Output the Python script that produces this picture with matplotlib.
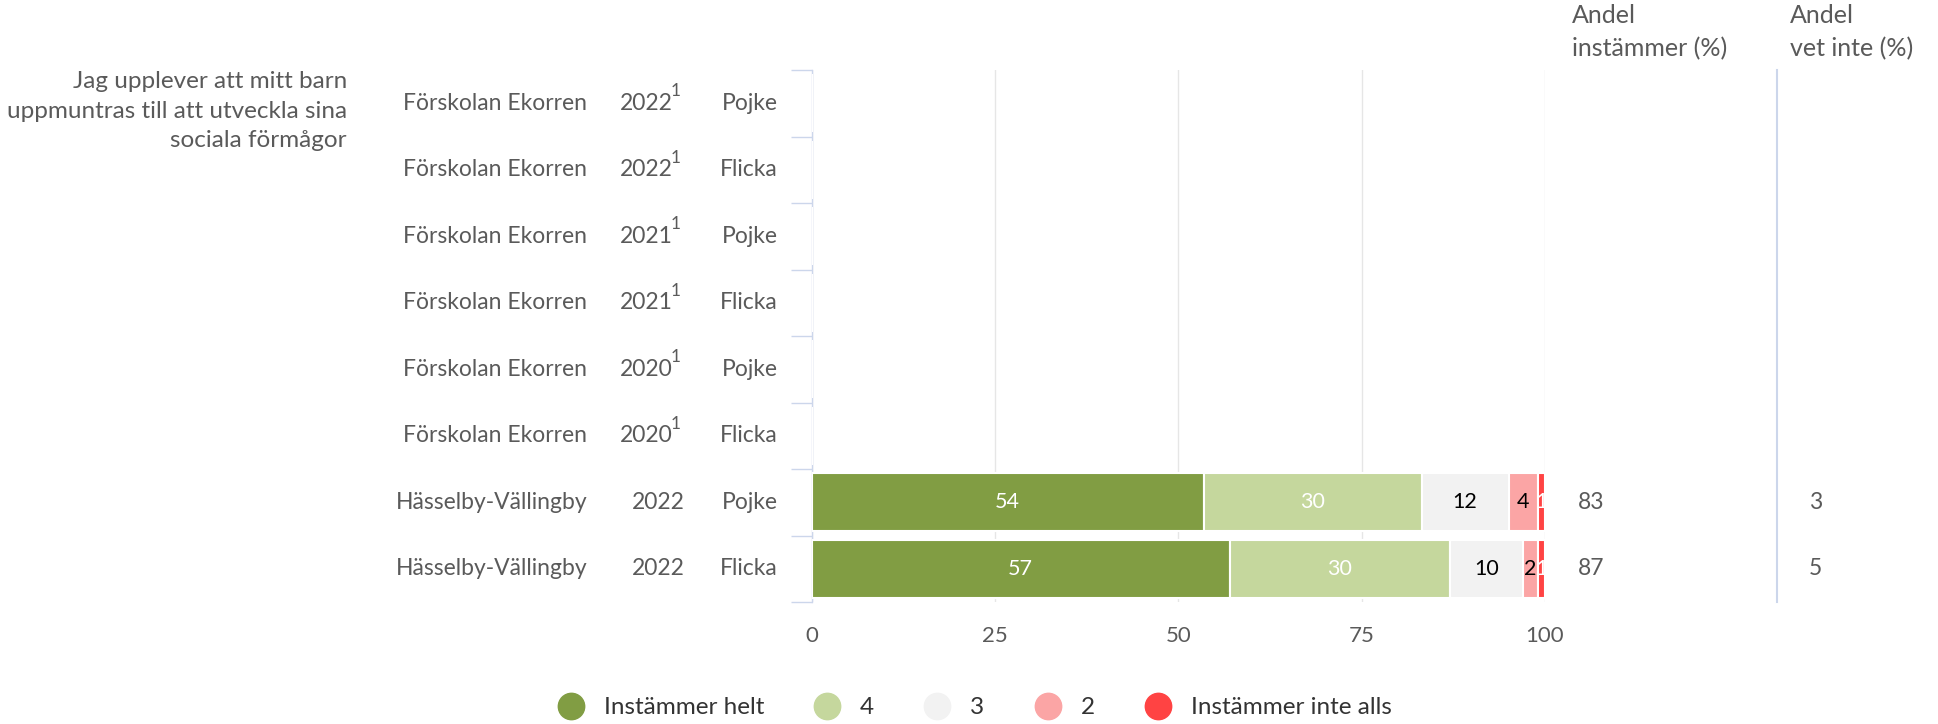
import matplotlib.pyplot as plt
import matplotlib.transforms as mtransforms
from matplotlib.lines import Line2D
import numpy as np

plt.rcParams['font.family'] = ['Lato', 'DejaVu Sans']

# data
question = "Jag upplever att mitt barn\nuppmuntras till att utveckla sina\nsociala förmågor"
units = ["Förskolan Ekorren"] * 6 + ["Hässelby-Vällingby"] * 2
years = ["2022", "2022", "2021", "2021", "2020", "2020", "2022", "2022"]
footnotes = ["1", "1", "1", "1", "1", "1", "", ""]
genders = ["Pojke", "Flicka", "Pojke", "Flicka", "Pojke", "Flicka", "Pojke", "Flicka"]

series_names = ["Instämmer helt", "4", "3", "2", "Instämmer inte alls"]
helt = [0, 0, 0, 0, 0, 0, 54, 57]
fyra = [0, 0, 0, 0, 0, 0, 30, 30]
tre = [0, 0, 0, 0, 0, 0, 12, 10]
tva = [0, 0, 0, 0, 0, 0, 4, 2]
inte_alls = [0, 0, 0, 0, 0, 0, 1, 1]
andel_instammer = ["", "", "", "", "", "", "83", "87"]
andel_vet_inte = ["", "", "", "", "", "", "3", "5"]

colors = ["#819d43", "#c5d79d", "#f2f2f2", "#fba5a5", "#ff4343"]
label_colors = ["white", "white", "black", "black", "white"]
text_grey = "#5a5a5a"
axis_col = "#ccd6eb"

W, H = 1938, 724
fig = plt.figure(figsize=(W / 100, H / 100), dpi=100)
x0, x1 = 811.5, 1545
y_top, y_bot = 70, 602
ax = fig.add_axes([x0 / W, 1 - y_bot / H, (x1 - x0) / W, (y_bot - y_top) / H])

values = np.array([helt, fyra, tre, tva, inte_alls], dtype=float)
totals = values.sum(axis=0)
totals[totals == 0] = 1
pct = values / totals * 100

rows = np.arange(len(units))
left = np.zeros(len(units))
for i, name in enumerate(series_names):
    ax.barh(rows, pct[i], left=left, height=0.87, color=colors[i],
            edgecolor="white", linewidth=1.5, label=name, zorder=3)
    for r in rows:
        if values[i, r] > 0:
            ax.text(left[r] + pct[i, r] / 2, r, "%d" % values[i, r],
                    ha="center", va="center", fontsize=15.5,
                    color=label_colors[i], zorder=4)
    left += pct[i]

ax.set_xlim(0, 100)
ax.set_ylim(len(units) - 0.5, -0.5)
ax.set_xticks([0, 25, 50, 75, 100])
ax.xaxis.grid(True, color="#e6e6e6", linewidth=1)
ax.set_axisbelow(True)
ax.tick_params(axis="x", length=0, pad=17, labelsize=16, labelcolor=text_grey)
ax.set_yticks(np.arange(-0.5, len(units), 1))
ax.set_yticklabels([])
ax.tick_params(axis="y", length=15, width=1, color=axis_col)
for s in ["top", "right", "bottom"]:
    ax.spines[s].set_visible(False)
ax.spines["left"].set_color(axis_col)
ax.spines["left"].set_linewidth(1)

# row labels in pixel x, data y
tr = mtransforms.blended_transform_factory(fig.transFigure, ax.transData)
for r in rows:
    ax.text(587 / W, r, units[r], transform=tr, ha="right", va="center",
            fontsize=16.5, color=text_grey)
    if footnotes[r]:
        ax.text(646 / W, r, years[r], transform=tr, ha="center", va="center",
                fontsize=16.5, color=text_grey)
        ax.text(671 / W, r - 0.18, footnotes[r], transform=tr, ha="left",
                va="center", fontsize=12.5, color=text_grey)
    else:
        ax.text(658 / W, r, years[r], transform=tr, ha="center", va="center",
                fontsize=16.5, color=text_grey)
    ax.text(778 / W, r, genders[r], transform=tr, ha="right", va="center",
            fontsize=16.5, color=text_grey)
    ax.text(1578 / W, r, andel_instammer[r], transform=tr, ha="left",
            va="center", fontsize=16.5, color=text_grey)
    ax.text(1809 / W, r, andel_vet_inte[r], transform=tr, ha="left",
            va="center", fontsize=16.5, color=text_grey)

fig.text(347 / W, 1 - 71 / H, question, ha="right", va="top", fontsize=17.5,
         color=text_grey, linespacing=1.5)
fig.text(1572 / W, 1 - 4 / H, "Andel\ninstämmer (%)", ha="left", va="top",
         fontsize=18, color=text_grey, linespacing=1.5)
fig.text(1790 / W, 1 - 4 / H, "Andel\nvet inte (%)", ha="left", va="top",
         fontsize=18, color=text_grey, linespacing=1.5)

fig.add_artist(Line2D([1777 / W, 1777 / W], [1 - y_top / H, 1 - y_bot / H],
                      transform=fig.transFigure, color=axis_col, linewidth=1.5))

handles = [Line2D([], [], marker="o", linestyle="", markersize=19,
                  markerfacecolor=c, markeredgecolor=c) for c in colors]
fig.legend(handles, series_names, loc="lower center", bbox_to_anchor=(0.5, -0.022),
           ncol=5, frameon=False, fontsize=17.5, handletextpad=0.35,
           columnspacing=1.6, labelcolor="#333333")

fig.savefig("out.png", dpi=100)
